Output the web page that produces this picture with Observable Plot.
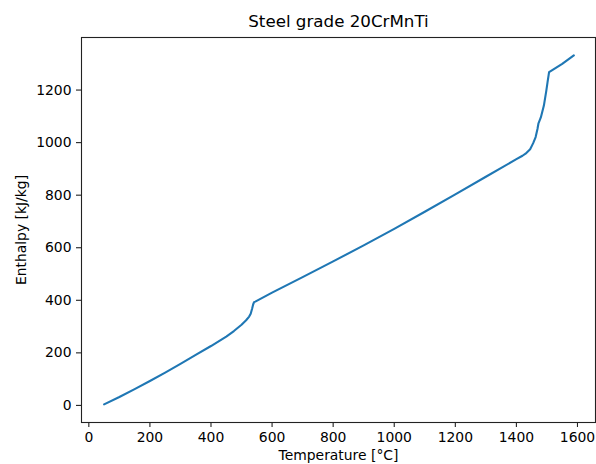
<!DOCTYPE html>
<html>
<head>
<meta charset="utf-8">
<script src="https://cdn.jsdelivr.net/npm/d3@7"></script>
<script src="https://cdn.jsdelivr.net/npm/@observablehq/plot@0.6"></script>
<style>
  html, body { margin: 0; padding: 0; background: #fff; }
  svg { display: block; }
</style>
</head>
<body>
<div id="chart"></div>
<script>
// Enthalpy of steel 20CrMnTi versus temperature
const chartTitle = "Steel grade 20CrMnTi";
const xLabel = "Temperature [°C]";
const yLabel = "Enthalpy [kJ/kg]";

const temperature = [
  50, 100, 150, 200, 250, 300, 350, 400, 450, 475, 500, 515, 525, 530, 535, 538, 541,
  545, 600, 700, 800, 900, 1000, 1100, 1200, 1300, 1400, 1420, 1430, 1445, 1455,
  1463, 1469, 1472, 1480, 1490, 1498, 1502, 1507, 1550, 1588
];
const enthalpy = [
  4, 32, 62, 93, 125, 158, 192, 226, 262, 283, 307, 324, 338, 349, 370, 384, 393,
  395, 429, 488, 548, 609, 672, 737, 803, 870, 937, 950, 958, 975, 998,
  1021, 1052, 1072, 1096, 1141, 1198, 1230, 1268, 1300, 1332
];

const xTicks = [0, 200, 400, 600, 800, 1000, 1200, 1400, 1600];
const yTicks = [0, 200, 400, 600, 800, 1000, 1200];

const rows = temperature.map((t, i) => ({t, h: enthalpy[i]}));

const font = "DejaVu Sans, sans-serif";
const tickFont = 13.9;

const chart = Plot.plot({
  width: 596,
  height: 464,
  marginTop: 37,
  marginBottom: 42,
  marginLeft: 81,
  marginRight: 1,
  style: {fontFamily: font, background: "#fff", color: "#000"},
  x: {domain: [-24, 1659]},
  y: {domain: [-65, 1400]},
  marks: [
    Plot.axisX({
      ticks: xTicks, tickSize: 5, tickPadding: 5, tickFormat: d => String(d),
      fontSize: tickFont, label: null, stroke: "#222", fill: "#000", strokeWidth: 1.1
    }),
    Plot.axisY({
      ticks: yTicks, tickSize: 5, tickPadding: 5, tickFormat: d => String(d),
      fontSize: tickFont, label: null, stroke: "#222", fill: "#000", strokeWidth: 1.1
    }),
    Plot.line(rows, {x: "t", y: "h", stroke: "#1f77b4", strokeWidth: 2.1, strokeLinejoin: "round", strokeLinecap: "round"}),
    Plot.frame({stroke: "#222", strokeWidth: 1.1}),
    Plot.text([chartTitle], {frameAnchor: "top", lineAnchor: "middle", dy: -16, fontSize: 16.7, fill: "#000"}),
    Plot.text([xLabel], {frameAnchor: "bottom", lineAnchor: "middle", dy: 33, fontSize: tickFont, fill: "#000"}),
    Plot.text([yLabel], {frameAnchor: "left", textAnchor: "middle", lineAnchor: "middle", dx: -60, rotate: -90, fontSize: tickFont, fill: "#000"})
  ]
});

document.getElementById("chart").appendChild(chart);
</script>
</body>
</html>
